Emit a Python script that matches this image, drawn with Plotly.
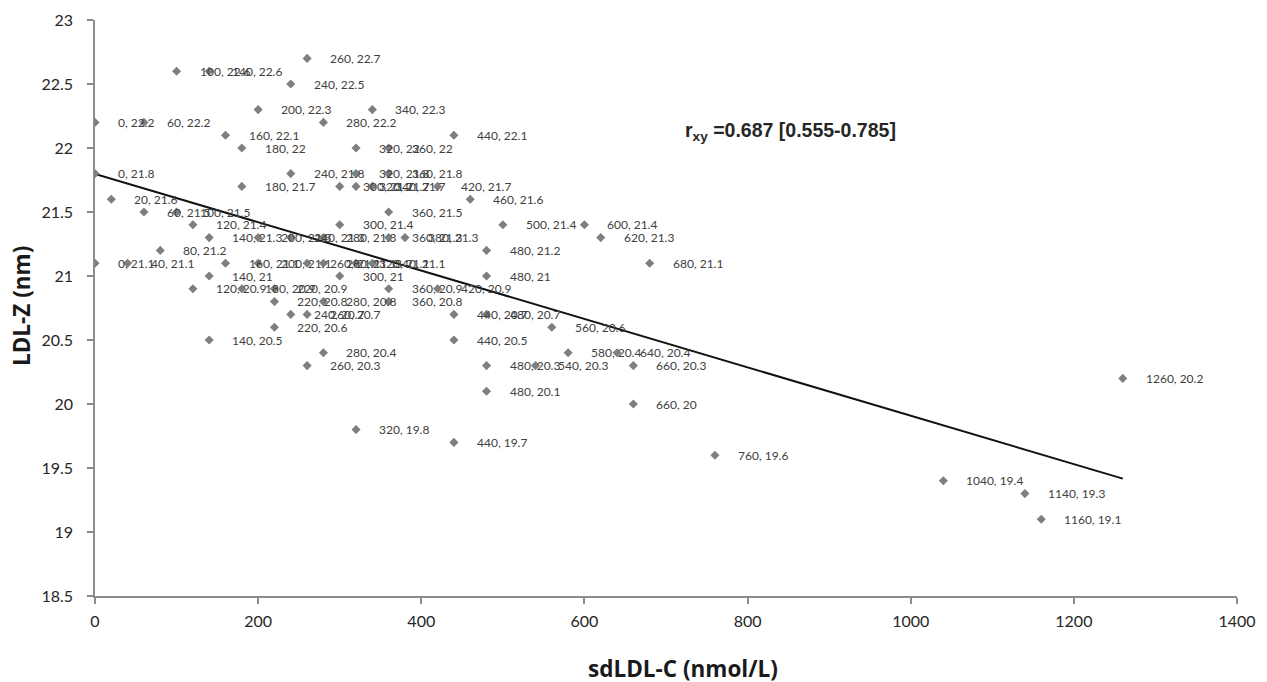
import numpy as np
import plotly.graph_objects as go

# sdLDL-C (nmol/L) and LDL-Z (nm) pairs, grouped by LDL-Z level
ldlz_levels = [22.7, 22.6, 22.5, 22.3, 22.2, 22.1, 22.0, 21.8, 21.7, 21.6, 21.5, 21.4,
               21.3, 21.2, 21.1, 21.0, 20.9, 20.8, 20.7, 20.6, 20.5, 20.4, 20.3, 20.2,
               20.1, 20.0, 19.8, 19.7, 19.6, 19.4, 19.3, 19.1]
sdldl_groups = [
    [260],
    [100, 140],
    [240],
    [200, 340],
    [0, 60, 280],
    [160, 440],
    [180, 320, 360],
    [0, 240, 320, 360],
    [180, 300, 320, 340, 420],
    [20, 460],
    [60, 100, 360],
    [120, 300, 500, 600],
    [140, 200, 240, 280, 360, 380, 620],
    [80, 480],
    [0, 40, 160, 200, 260, 280, 320, 340, 680],
    [140, 300, 480],
    [120, 180, 220, 360, 420],
    [220, 280, 360],
    [240, 260, 440, 480],
    [220, 560],
    [140, 440],
    [280, 580, 640],
    [260, 480, 540, 660],
    [1260],
    [480],
    [660],
    [320],
    [440],
    [760],
    [1040],
    [1140],
    [1160],
]

x_vals = []
y_vals = []
for yv, xs in zip(ldlz_levels, sdldl_groups):
    for xv in xs:
        x_vals.append(xv)
        y_vals.append(yv)
x_vals = np.array(x_vals, dtype=float)
y_vals = np.array(y_vals, dtype=float)

x_ticks = [0, 200, 400, 600, 800, 1000, 1200, 1400]
y_ticks = [18.5, 19, 19.5, 20, 20.5, 21, 21.5, 22, 22.5, 23]
corr_text = "r<sub>xy</sub> =0.687 [0.555-0.785]"
x_title = "sdLDL-C (nmol/L)"
y_title = "LDL-Z (nm)"


def fmt(v):
    return ("%.1f" % v).rstrip("0").rstrip(".")


labels = ["%d, %s" % (int(a), fmt(b)) for a, b in zip(x_vals, y_vals)]

# linear trendline fitted to the data
slope, intercept = np.polyfit(x_vals, y_vals, 1)
tx = np.array([x_vals.min(), x_vals.max()])
ty = intercept + slope * tx

fig = go.Figure()
fig.add_trace(go.Scatter(
    x=tx, y=ty, mode="lines",
    line=dict(color="#111111", width=2),
    hoverinfo="skip", showlegend=False,
))
fig.add_trace(go.Scatter(
    x=x_vals, y=y_vals, mode="markers",
    marker=dict(symbol="diamond", size=7, color="#7f7f7f"),
    showlegend=False,
))

label_font = dict(family="Lato, sans-serif", size=12, color="#404040")
annotations = []
for a, b, t in zip(x_vals, y_vals, labels):
    annotations.append(dict(
        x=a, y=b, xref="x", yref="y", text=t, showarrow=False,
        xanchor="left", yanchor="middle", xshift=21, font=label_font,
    ))
title_font = dict(family="Open Sans, sans-serif", size=22.5, color="#1a1a1a")
annotations.append(dict(
    x=0.5149, y=0.8056, xref="paper", yref="paper", text="<b>" + corr_text + "</b>",
    showarrow=False, xanchor="left", yanchor="middle",
    font=dict(family="Liberation Sans, Arial, sans-serif", size=19.5, color="#262626"),
))
annotations.append(dict(
    x=0.5149, y=-0.125, xref="paper", yref="paper", text="<b>" + x_title + "</b>",
    showarrow=False, xanchor="center", yanchor="middle", font=title_font,
))
annotations.append(dict(
    x=-0.0639, y=0.5035, xref="paper", yref="paper", text="<b>" + y_title + "</b>",
    showarrow=False, xanchor="center", yanchor="middle", textangle=-90, font=title_font,
))

axis_common = dict(
    showgrid=False, zeroline=False, showline=True, linecolor="#8c8c8c", linewidth=1.5,
    ticks="outside", ticklen=6, tickcolor="#8c8c8c", tickwidth=1.5, automargin=False,
    tickfont=dict(family="Lato, sans-serif", size=16, color="#262626"),
)

fig.update_layout(
    width=1259, height=674,
    margin=dict(l=87, r=30, t=12, b=86, autoexpand=False),
    plot_bgcolor="white", paper_bgcolor="white",
    xaxis=dict(range=[0, 1400], tickvals=x_ticks, ticktext=[str(v) for v in x_ticks],
               ticklabelstandoff=4, **axis_common),
    yaxis=dict(range=[18.5, 23], tickvals=y_ticks, ticktext=[fmt(v) for v in y_ticks],
               ticklabelstandoff=11, **axis_common),
    annotations=annotations,
)

fig.write_html("out.html")
